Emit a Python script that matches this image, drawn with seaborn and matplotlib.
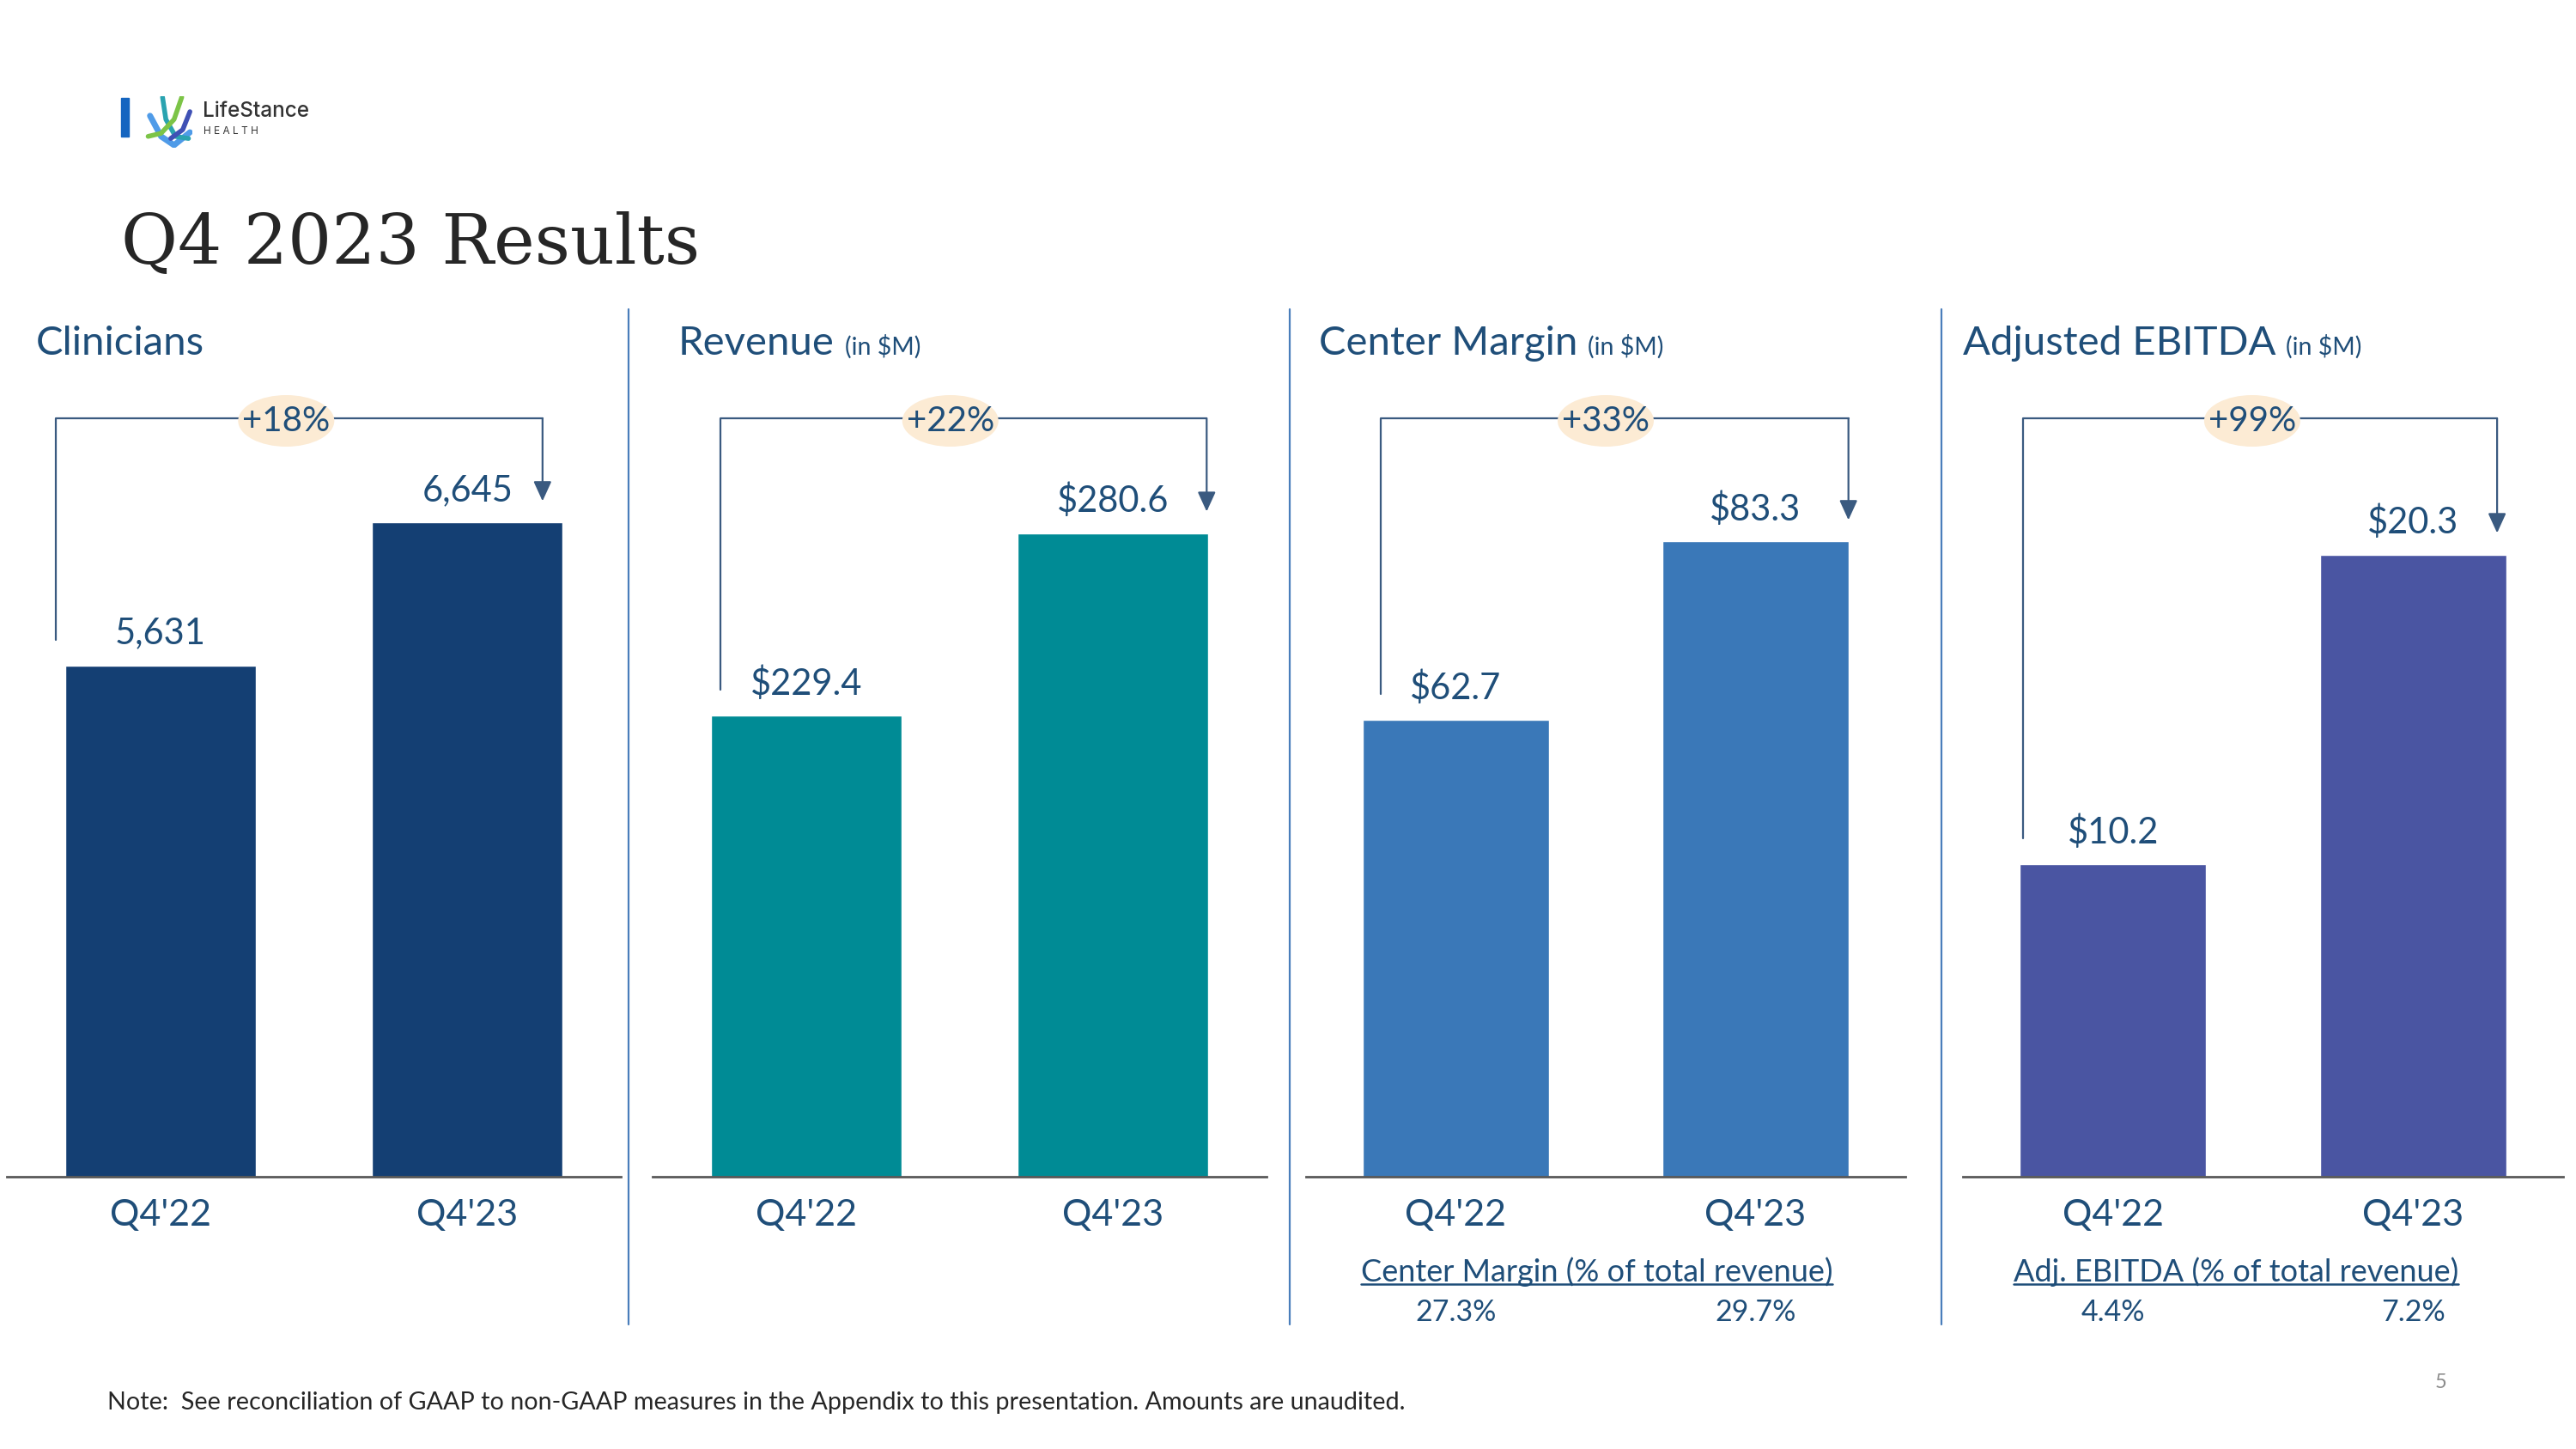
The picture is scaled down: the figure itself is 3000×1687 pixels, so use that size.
import matplotlib
matplotlib.use("Agg")
import matplotlib.pyplot as plt
import matplotlib.patches as mpatches
import matplotlib.lines as mlines
import seaborn as sns

# ---------------- data ----------------
quarters = ["Q4'22", "Q4'23"]
clinicians = [5631, 6645]
revenue = [229.4, 280.6]
center_margin = [62.7, 83.3]
adj_ebitda = [10.2, 20.3]
clinician_labels = ["5,631", "6,645"]
revenue_labels = ["$229.4", "$280.6"]
center_margin_labels = ["$62.7", "$83.3"]
adj_ebitda_labels = ["$10.2", "$20.3"]
growth_labels = ["+18%", "+22%", "+33%", "+99%"]
panel_titles = ["Clinicians", "Revenue", "Center Margin", "Adjusted EBITDA"]
panel_units = ["", "(in $M)", "(in $M)", "(in $M)"]
cm_pct_title = "Center Margin (% of total revenue)"
cm_pct_labels = ["27.3%", "29.7%"]
ebitda_pct_title = "Adj. EBITDA (% of total revenue)"
ebitda_pct_labels = ["4.4%", "7.2%"]

series = [clinicians, revenue, center_margin, adj_ebitda]
series_labels = [clinician_labels, revenue_labels, center_margin_labels, adj_ebitda_labels]

# ---------------- style / layout ----------------
sns.set_theme(style="white")
plt.rcParams["font.family"] = ["Lato", "DejaVu Sans"]

W, H = 3000, 1687
DARK = "#1F4E79"
LINE = "#3A5A80"
bar_colors = ["#143F73", "#008B95", "#3A78B8", "#4A55A2"]
ax_x = [(8, 723), (760, 1475), (1521, 2219), (2286, 2985)]
AX_TOP, AX_BOT = 360, 1370
ylims = [(2000, 8160), (100, 343.4), (10, 110.1), (0, 28.3)]
bracket_left = [-0.34, -0.28, -0.25, -0.30]
bracket_right = [1.245, 1.305, 1.31, 1.28]
pct_x = [0.455, 0.485, 0.50, 0.482]
title_x = [42, 790, 1536, 2286]

fig = plt.figure(figsize=(W / 100, H / 100), dpi=100)
fig.patch.set_facecolor("white")


def fx(x):
    return x / W


def fy(y):
    return 1 - y / H


BRACKET_Y = (AX_BOT - 487) / (AX_BOT - AX_TOP)
axh = AX_BOT - AX_TOP

axes = []
for i in range(4):
    x0, x1 = ax_x[i]
    ax = fig.add_axes([fx(x0), fy(AX_BOT), (x1 - x0) / W, axh / H])
    axes.append(ax)
    sns.barplot(x=quarters, y=series[i], ax=ax, color=bar_colors[i],
                saturation=1, width=0.62)
    ax.set_xlim(-0.5, 1.5)
    ylo, yhi = ylims[i]
    ax.set_ylim(ylo, yhi)
    ax.set_facecolor("none")
    for s in ["top", "right", "left"]:
        ax.spines[s].set_visible(False)
    ax.spines["bottom"].set_color("#595959")
    ax.spines["bottom"].set_linewidth(2.0)
    ax.set_yticks([])
    ax.set_xlabel("")
    ax.set_ylabel("")
    ax.tick_params(axis="x", length=0, pad=19, labelsize=31, labelcolor=DARK)

    vals = series[i]
    # value labels
    for j, v in enumerate(vals):
        ax.annotate(series_labels[i][j], xy=(j, v), xytext=(0, 27),
                    textcoords="offset points", ha="center", va="center",
                    fontsize=30, color=DARK)

    # growth bracket
    tr = ax.get_xaxis_transform()
    frac = lambda v: (v - ylo) / (yhi - ylo)
    left_bottom = frac(vals[0]) + 30 / axh
    tip = frac(vals[1]) + 25 / axh
    xl, xr = bracket_left[i], bracket_right[i]
    ax.add_line(mlines.Line2D([xl, xl, xr], [left_bottom, BRACKET_Y, BRACKET_Y],
                              transform=tr, color=LINE, lw=1.6, zorder=2,
                              clip_on=False))
    ax.annotate("", xy=(xr, tip), xytext=(xr, BRACKET_Y), xycoords=tr,
                textcoords=tr,
                arrowprops=dict(arrowstyle="-|>,head_length=0.7,head_width=0.32",
                                mutation_scale=20, color=LINE, lw=1.6,
                                shrinkA=0, shrinkB=0))
    ew = 112 / (x1 - x0)
    eh = 60 / axh
    ax.add_patch(mpatches.Ellipse((pct_x[i], BRACKET_Y - 3 / axh), ew, eh,
                                  transform=ax.transAxes, facecolor="#FCEBD4",
                                  edgecolor="none", zorder=3, clip_on=False))
    ax.text(pct_x[i], BRACKET_Y - 4 / axh, growth_labels[i], transform=ax.transAxes,
            ha="center", va="center", fontsize=29, color=DARK, zorder=4)

# panel titles
renderer = fig.canvas.get_renderer()
for i in range(4):
    t = fig.text(fx(title_x[i]), fy(413), panel_titles[i], fontsize=34,
                 color=DARK, ha="left", va="baseline")
    if panel_units[i]:
        bb = t.get_window_extent(renderer)
        fig.text(fx(bb.x1 + 12), fy(413), panel_units[i], fontsize=20.5,
                 color=DARK, ha="left", va="baseline")

# separators
for xs in [732, 1502, 2261]:
    fig.add_artist(mlines.Line2D([fx(xs), fx(xs)], [fy(360), fy(1542)],
                                 color="#4A7EBB", lw=1.6))

# sub tables (% of total revenue)
for ax_i, ttl, labs, cx in [(2, cm_pct_title, cm_pct_labels, 0.47),
                            (3, ebitda_pct_title, ebitda_pct_labels, 0.41)]:
    ax = axes[ax_i]
    tr = ax.get_xaxis_transform()
    t = ax.text(cx, -(1481 - AX_BOT) / axh, ttl, transform=tr, ha="center",
                va="center", fontsize=26, color=DARK)
    bb = t.get_window_extent(renderer)
    inv = fig.transFigure.inverted()
    (ux0, uy), (ux1, _) = inv.transform([(bb.x0, bb.y0 + 3), (bb.x1, bb.y0 + 3)])
    fig.add_artist(mlines.Line2D([ux0, ux1], [uy, uy], color=DARK, lw=1.8))
    for j, lab in enumerate(labs):
        ax.text(j, -(1528 - AX_BOT) / axh, lab, transform=tr, ha="center",
                va="center", fontsize=24.5, color=DARK)

# slide title
fig.text(fx(141), fy(307), "Q4 2023 Results", fontsize=58, color="#262626",
         family=["DejaVu Serif"], ha="left", va="baseline")

# logo
fig.add_artist(mpatches.Rectangle((fx(141), fy(159)), 9 / W, 45 / H,
                                  transform=fig.transFigure, color="#1565C0"))
lax = fig.add_axes([fx(168), fy(172), 56 / W, 60 / H])
lax.set_xlim(0, 1)
lax.set_ylim(0, 1)
lax.axis("off")
lax.plot([0.12, 0.35, 0.62, 0.95], [0.62, 0.22, 0.05, 0.30], color="#4F9BE8", lw=5,
         solid_capstyle="round")
lax.plot([0.38, 0.45, 0.65, 0.92], [0.98, 0.55, 0.22, 0.18], color="#2AA3B0", lw=4,
         solid_capstyle="round")
lax.plot([0.78, 0.62, 0.35, 0.08], [0.98, 0.55, 0.28, 0.22], color="#7CC447", lw=4,
         solid_capstyle="round")
lax.plot([0.95, 0.80, 0.55], [0.70, 0.35, 0.18], color="#3F51B5", lw=4,
         solid_capstyle="round")
fig.text(fx(236), fy(136), "LifeStance", fontsize=17.5, color="#333333",
         family=["Inter", "DejaVu Sans"], fontweight="medium", va="baseline")
fig.text(fx(237), fy(156), "H E A L T H", fontsize=8.5, color="#333333",
         family=["Inter", "DejaVu Sans"], va="baseline")

# footnote + page number
fig.text(fx(125), fy(1633),
         "Note:  See reconciliation of GAAP to non-GAAP measures in the Appendix "
         "to this presentation. Amounts are unaudited.",
         fontsize=20.7, color="#262626", ha="left", va="center")
fig.text(fx(2843), fy(1609), "5", fontsize=17, color="#8C8C8C", ha="center",
         va="center")

fig.savefig("out.png", dpi=100, facecolor="white")
